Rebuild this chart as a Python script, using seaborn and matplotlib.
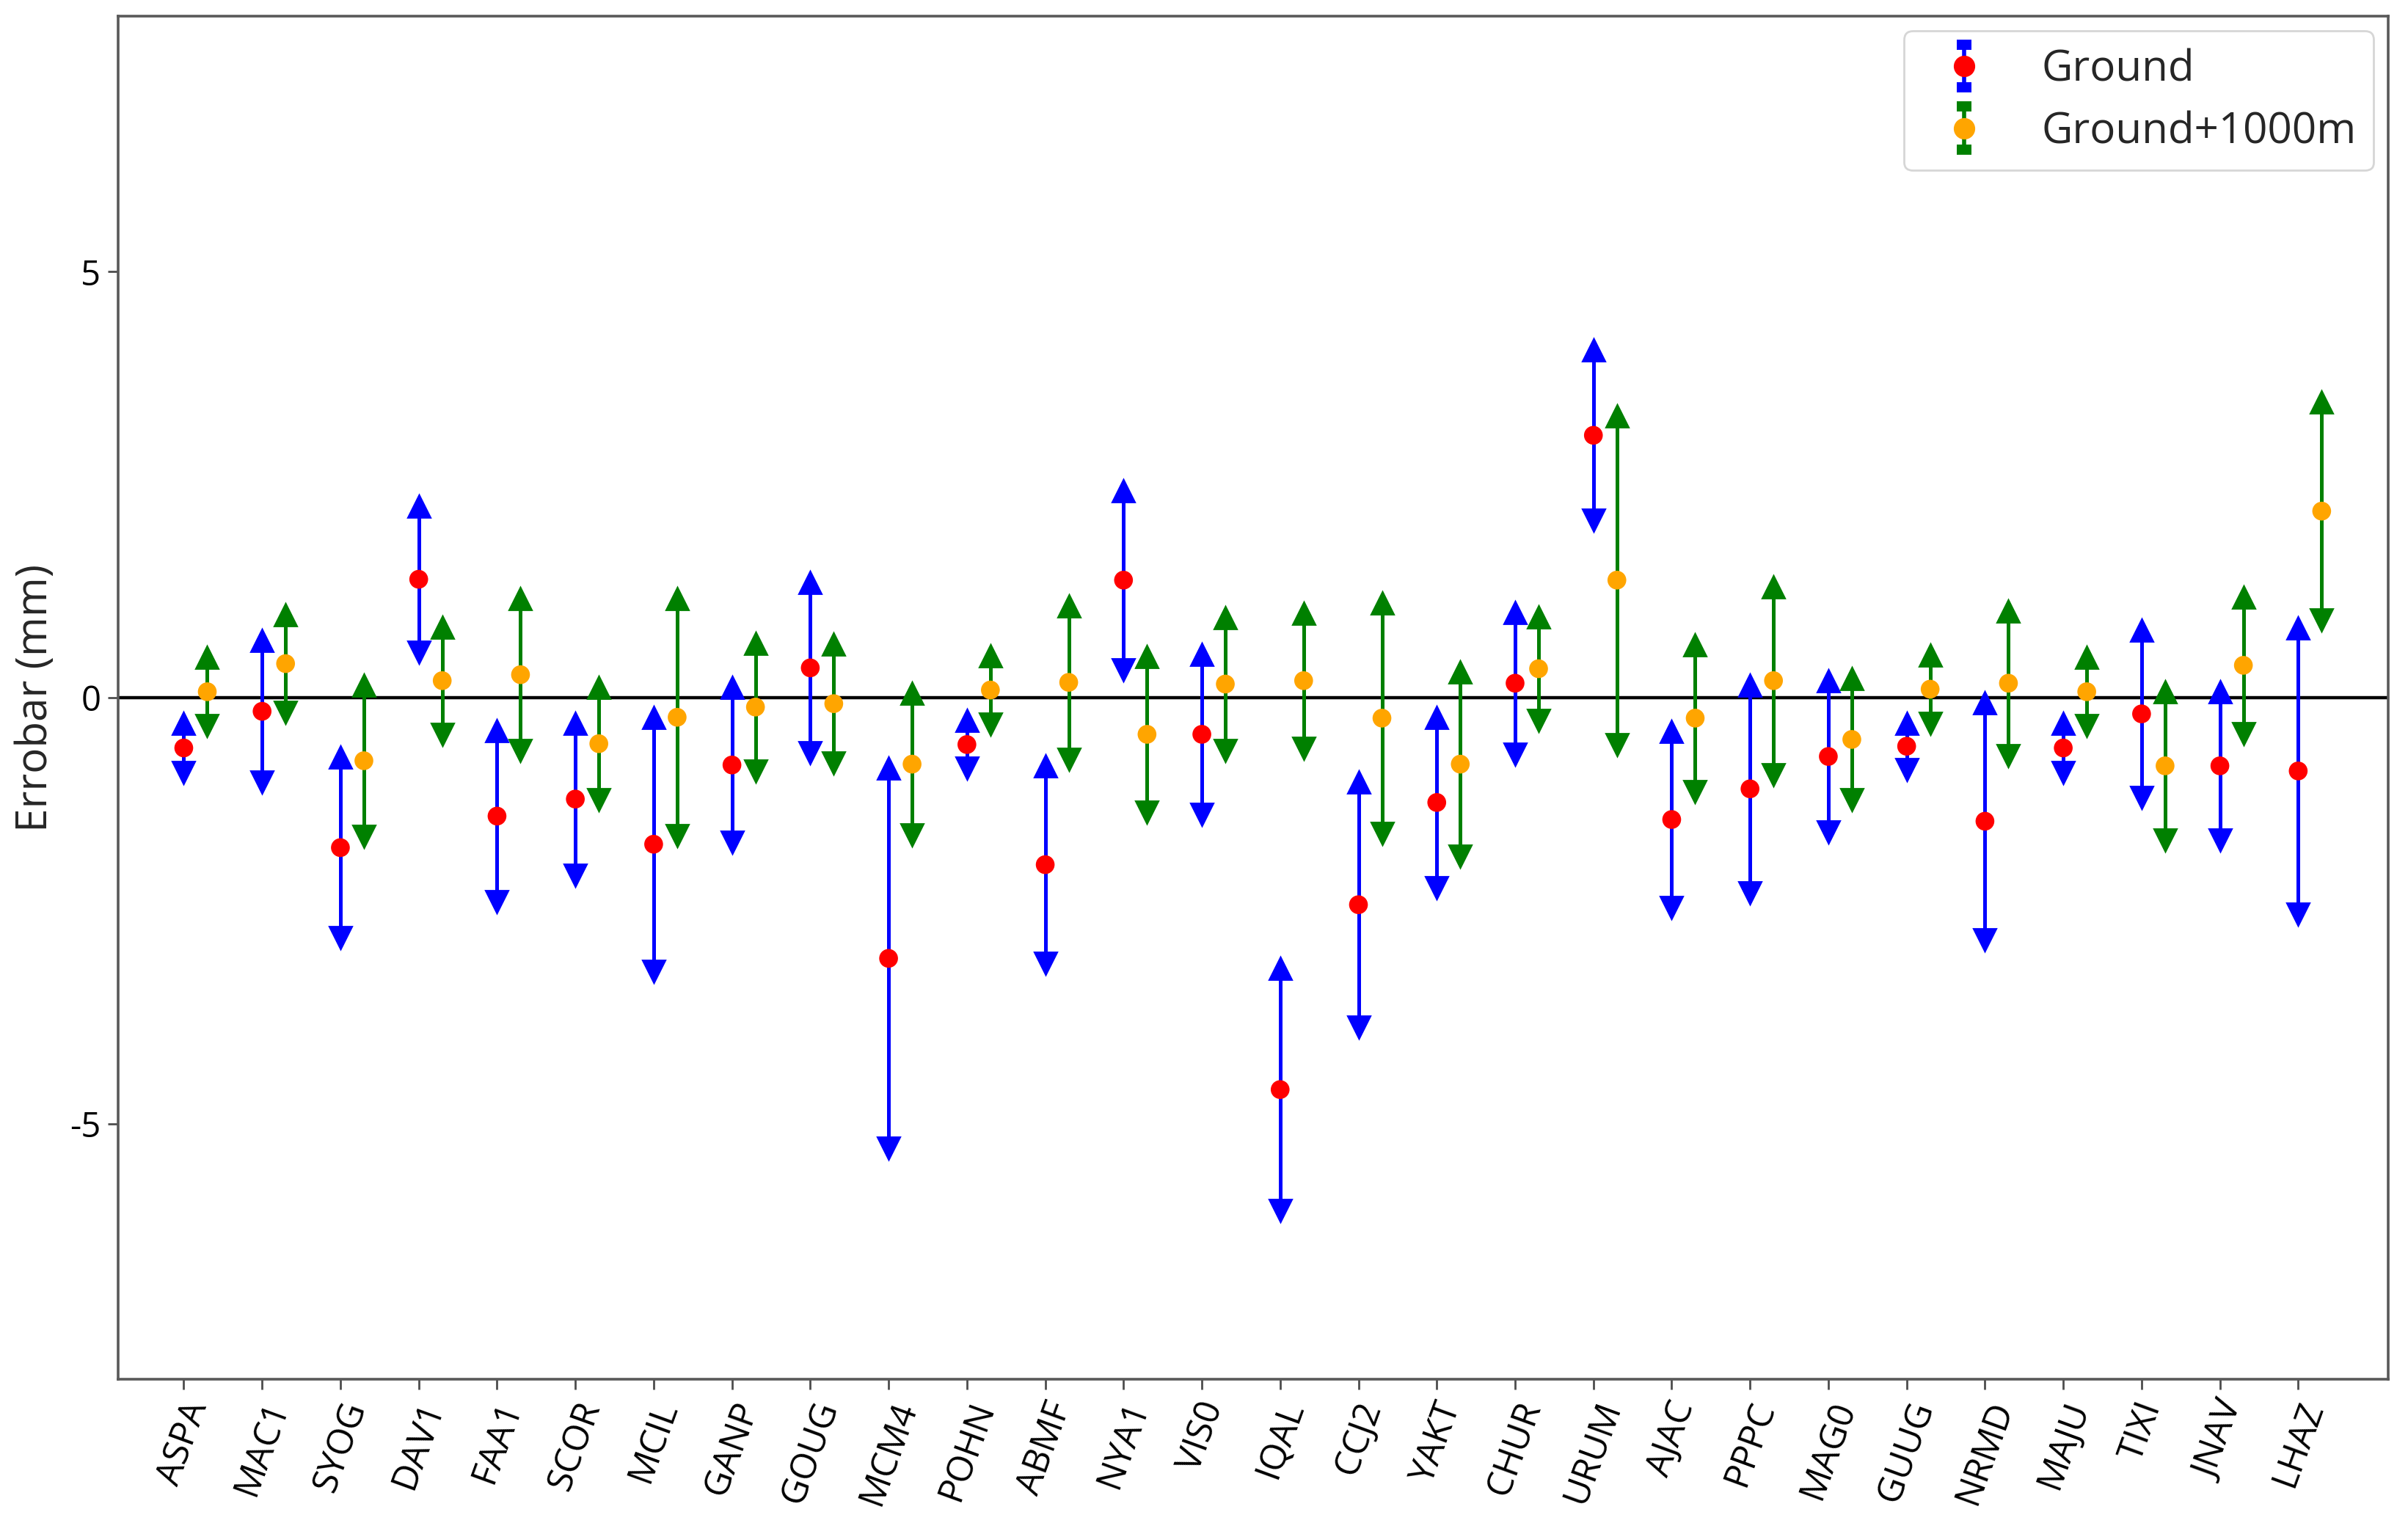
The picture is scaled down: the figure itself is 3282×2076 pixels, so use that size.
import numpy as np
import pandas as pd
import matplotlib
matplotlib.use("Agg")
import matplotlib.pyplot as plt
from matplotlib.legend_handler import HandlerErrorbar
from matplotlib.container import ErrorbarContainer
import seaborn as sns

# ---------------- data ----------------
stations = ["ASPA", "MAC1", "SYOG", "DAV1", "FAA1", "SCOR", "MCIL", "GANP", "GOUG", "MCM4",
            "POHN", "ABMF", "NYA1", "VIS0", "IQAL", "CCJ2", "YAKT", "CHUR", "URUM", "AJAC",
            "PPPC", "MAG0", "GUUG", "NRMD", "MAJU", "TIXI", "JNAV", "LHAZ"]

ground = [-0.59, -0.16, -1.76, 1.39, -1.39, -1.19, -1.72, -0.79, 0.35, -3.06,
          -0.55, -1.96, 1.38, -0.43, -4.60, -2.43, -1.23, 0.17, 3.08, -1.43,
          -1.07, -0.69, -0.57, -1.45, -0.59, -0.19, -0.80, -0.86]
ground_err = [0.29, 0.83, 1.06, 0.86, 1.00, 0.89, 1.49, 0.91, 1.00, 2.23,
              0.28, 1.16, 1.05, 0.94, 1.42, 1.44, 1.00, 0.83, 1.00, 1.03,
              1.22, 0.89, 0.27, 1.39, 0.29, 0.98, 0.87, 1.68]

g1000 = [0.07, 0.40, -0.74, 0.20, 0.27, -0.54, -0.23, -0.11, -0.07, -0.78,
         0.09, 0.18, -0.43, 0.16, 0.20, -0.24, -0.78, 0.34, 1.38, -0.24,
         0.20, -0.49, 0.10, 0.17, 0.07, -0.80, 0.38, 2.19]
g1000_err = [0.40, 0.57, 0.89, 0.63, 0.89, 0.66, 1.39, 0.75, 0.70, 0.83,
             0.40, 0.90, 0.91, 0.78, 0.79, 1.35, 1.08, 0.61, 1.93, 0.86,
             1.10, 0.71, 0.40, 0.85, 0.40, 0.87, 0.80, 1.28]

series_labels = ["Ground", "Ground+1000m"]

# ---------------- style ----------------
sns.set_theme(style="ticks")
plt.rcParams['font.family'] = ['Open Sans', 'DejaVu Sans']
plt.rcParams['axes.unicode_minus'] = False

fig = plt.figure(figsize=(16.41, 10.38), dpi=200)
ax = fig.add_axes([0.049, 0.0944, 0.9428, 0.8950])

x = np.arange(len(stations))
offset = 0.3
df = pd.DataFrame({
    "station": stations,
    "xg": x.astype(float),
    "xh": x + offset,
    "ground": ground,
    "ground_err": ground_err,
    "g1000": g1000,
    "g1000_err": g1000_err,
})

ax.axhline(0, color="black", lw=1.6, zorder=1)

specs = [("xg", "ground", "ground_err", "blue", "red"),
         ("xh", "g1000", "g1000_err", "green", "orange")]
for xc, vc, ec, lc, mc in specs:
    xs = df[xc].to_numpy()
    vs = df[vc].to_numpy()
    es = df[ec].to_numpy()
    ax.errorbar(xs, vs, yerr=es, fmt="none", ecolor=lc, elinewidth=1.8,
                capsize=0, zorder=2)
    ax.plot(xs, vs + es, ls="none", marker="^", ms=10.5, color=lc, mec=lc, zorder=2)
    ax.plot(xs, vs - es, ls="none", marker="v", ms=10.5, color=lc, mec=lc, zorder=2)
    sns.scatterplot(data=df, x=xc, y=vc, color=mc, s=85, edgecolor="none",
                    linewidth=0, zorder=3, legend=False, ax=ax)

# legend proxies (errorbar with caps)
handles = []
for lbl, lc, mc in [(series_labels[0], "blue", "red"), (series_labels[1], "green", "orange")]:
    h = ax.errorbar([np.nan], [np.nan], yerr=[1.0], fmt="o", color=mc, ms=9.5,
                    ecolor=lc, elinewidth=2.0, capsize=3.5, capthick=5, label=lbl)
    handles.append(h)
leg = ax.legend(handles=handles, labels=series_labels, loc="upper right",
                fontsize=21, frameon=True, fancybox=True, framealpha=0.8,
                edgecolor="#cccccc", labelspacing=0.45, borderpad=0.4,
                borderaxespad=0.35,
                handler_map={ErrorbarContainer: HandlerErrorbar(yerr_size=0.5)})

ax.set_xlim(-0.84, 28.15)
ax.set_ylim(-8, 8)
ax.set_xticks(x)
ax.set_xticklabels(stations, rotation=70, ha="center", fontsize=17.5)
ax.set_yticks([-5, 0, 5])
ax.set_yticklabels(["-5", "0", "5"], fontsize=17)
ax.set_ylabel("Errobar (mm)", fontsize=21, labelpad=6)
ax.set_xlabel("")

for sp in ax.spines.values():
    sp.set_visible(True)
    sp.set_color("0.35")
    sp.set_linewidth(1.3)
ax.tick_params(axis="both", direction="out", length=5, width=1.0, color="0.3",
               labelcolor="black")

fig.savefig("out.png", dpi=200)
